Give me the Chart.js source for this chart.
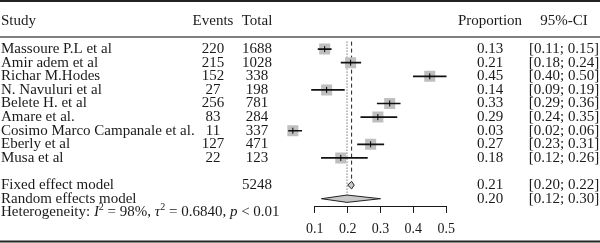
<!DOCTYPE html>
<html>
<head>
<meta charset="utf-8">
<script src="https://cdn.jsdelivr.net/npm/chart.js@4.4.0/dist/chart.umd.min.js"></script>
<style>
  html, body { margin: 0; padding: 0; background: #fff; }
  #wrap { position: relative; width: 600px; height: 243px; }
</style>
</head>
<body>
<div id="wrap"><canvas id="forest" width="600" height="243"></canvas></div>
<script>
// study data
var studies = ["Massoure P.L et al", "Amir adem et al", "Richar M.Hodes", "N. Navuluri et al",
  "Belete H. et al", "Amare et al.", "Cosimo Marco Campanale et al.", "Eberly et al", "Musa et al"];
var events = [220, 215, 152, 27, 256, 83, 11, 127, 22];
var totals = [1688, 1028, 338, 198, 781, 284, 337, 471, 123];
var est = [0.130, 0.209, 0.450, 0.136, 0.328, 0.292, 0.033, 0.270, 0.179];
var ciLow = [0.11, 0.18, 0.40, 0.09, 0.29, 0.24, 0.02, 0.23, 0.12];
var ciHigh = [0.15, 0.24, 0.50, 0.19, 0.36, 0.35, 0.06, 0.31, 0.26];

// pooled models
var modelNames = ["Fixed effect model", "Random effects model"];
var modelTotal = 5248;
var modelEst = [0.212, 0.198];
var modelLow = [0.20, 0.12];
var modelHigh = [0.22, 0.30];

var xTicks = [0.1, 0.2, 0.3, 0.4, 0.5];

var FONT = "Liberation Serif";
var INK = "#1a1a1a";

// row positions (study i sits on row i)
var modelRows = [10, 11];
var hetRow = 12;
var headRow = -2.07;
var ruleRow = -0.88;

function diamond(lo, mid, hi, row, h) {
  return [{x: lo, y: row}, {x: mid, y: row - h}, {x: hi, y: row}, {x: mid, y: row + h}, {x: lo, y: row}];
}

var textPlugin = {
  id: "forestText",
  afterDraw: function(chart) {
    var ctx = chart.ctx;
    var xs = chart.scales.x, ys = chart.scales.y;
    var W = chart.width;
    ctx.save();

    // rules
    ctx.strokeStyle = "#222";
    ctx.lineWidth = 2;
    ctx.beginPath(); ctx.moveTo(0, 1); ctx.lineTo(W, 1); ctx.stroke();
    ctx.beginPath(); ctx.moveTo(0, 241.5); ctx.lineTo(W, 241.5); ctx.stroke();
    ctx.strokeStyle = "#555";
    ctx.lineWidth = 1.5;
    var ry = Math.round(ys.getPixelForValue(ruleRow));
    ctx.beginPath(); ctx.moveTo(0, ry); ctx.lineTo(W, ry); ctx.stroke();

    // x axis line from first to last tick
    ctx.strokeStyle = INK;
    ctx.lineWidth = 1;
    var ay = chart.chartArea.bottom + 0.5;
    ctx.beginPath();
    ctx.moveTo(Math.round(xs.getPixelForValue(xTicks[0])), ay);
    ctx.lineTo(Math.round(xs.getPixelForValue(xTicks[xTicks.length - 1])) + 1, ay);
    ctx.stroke();

    ctx.fillStyle = INK;
    ctx.textBaseline = "middle";
    ctx.font = "15px '" + FONT + "'";

    function put(t, x, row, align) {
      ctx.textAlign = align;
      ctx.fillText(t, x, ys.getPixelForValue(row));
    }

    // header
    put("Study", 1, headRow, "left");
    put("Events", 213, headRow, "center");
    put("Total", 257, headRow, "center");
    put("Proportion", 490, headRow, "center");
    put("95%-CI", 564, headRow, "center");

    for (var i = 0; i < studies.length; i++) {
      put(studies[i], 1, i, "left");
      put(String(events[i]), 213, i, "center");
      put(String(totals[i]), 257, i, "center");
      put(est[i].toFixed(2), 490, i, "center");
      put("[" + ciLow[i].toFixed(2) + "; " + ciHigh[i].toFixed(2) + "]", 564, i, "center");
    }

    for (var m = 0; m < modelNames.length; m++) {
      put(modelNames[m], 1, modelRows[m], "left");
      put(modelEst[m].toFixed(2), 490, modelRows[m], "center");
      put("[" + modelLow[m].toFixed(2) + "; " + modelHigh[m].toFixed(2) + "]", 564, modelRows[m], "center");
    }
    put(String(modelTotal), 257, modelRows[0], "center");

    // heterogeneity line with italics and superscripts
    var hy = ys.getPixelForValue(hetRow);
    var parts = [
      ["Heterogeneity: ", "15px", ""], ["I", "15px", "italic "], ["2", "10px", "", -5],
      [" = 98%, ", "15px", ""], ["\u03c4", "15px", "italic "], ["2", "10px", "", -5],
      [" = 0.6840, ", "15px", ""], ["p", "15px", "italic "], [" < 0.01", "15px", ""]
    ];
    var x = 1;
    ctx.textAlign = "left";
    parts.forEach(function(p) {
      ctx.font = p[2] + p[1] + " '" + FONT + "'";
      ctx.fillText(p[0], x, hy + (p[3] || 0));
      x += ctx.measureText(p[0]).width;
    });

    ctx.restore();
  }
};

var yMin = -3.036;
var yMax = yMin + 204 / 14;

new Chart(document.getElementById("forest"), {
  type: "scatter",
  data: {
    datasets: [
      {
        // estimate tick
        type: "scatter",
        data: est.map(function(v, i) { return {x: v, y: i}; }),
        pointStyle: "line",
        rotation: 90,
        pointRadius: 3,
        borderColor: "#000",
        borderWidth: 1,
        order: 1
      },
      {
        // confidence intervals
        type: "bar",
        indexAxis: "y",
        grouped: false,
        data: ciLow.map(function(lo, i) { return {x: [lo, ciHigh[i]], y: i}; }),
        backgroundColor: "#111",
        barThickness: 1,
        order: 2
      },
      {
        // study squares
        type: "scatter",
        data: est.map(function(v, i) { return {x: v, y: i}; }),
        pointStyle: "rect",
        pointRadius: 7.8,
        backgroundColor: "#bfbfbf",
        borderWidth: 0,
        order: 3
      },
      {
        type: "line",
        data: diamond(modelLow[0], modelEst[0], modelHigh[0], modelRows[0], 0.28),
        fill: "shape",
        backgroundColor: "#c8c8c8",
        borderColor: "#222",
        borderWidth: 1,
        pointRadius: 0,
        tension: 0,
        order: 4
      },
      {
        type: "line",
        data: diamond(modelLow[1], modelEst[1], modelHigh[1], modelRows[1], 0.27),
        fill: "shape",
        backgroundColor: "#c8c8c8",
        borderColor: "#222",
        borderWidth: 1,
        pointRadius: 0,
        tension: 0,
        order: 4
      },
      {
        // fixed effect reference
        type: "line",
        data: [{x: modelEst[0], y: -0.55}, {x: modelEst[0], y: modelRows[0] - 0.3}],
        borderColor: "#222",
        borderWidth: 1,
        borderDash: [4, 3],
        pointRadius: 0,
        order: 5
      },
      {
        // random effects reference
        type: "line",
        data: [{x: modelEst[1], y: -0.55}, {x: modelEst[1], y: modelRows[1] - 0.27}],
        borderColor: "#333",
        borderWidth: 1,
        borderDash: [1, 2],
        pointRadius: 0,
        order: 5
      }
    ]
  },
  options: {
    responsive: false,
    animation: false,
    devicePixelRatio: 1,
    events: [],
    layout: { padding: { left: 282, right: 121, top: 2, bottom: 0 } },
    plugins: { legend: { display: false }, tooltip: { enabled: false } },
    scales: {
      x: {
        type: "linear",
        min: 0,
        max: 0.6,
        offset: false,
        afterBuildTicks: function(s) { s.ticks = xTicks.map(function(v) { return {value: v}; }); },
        afterFit: function(s) { s.height = 37; },
        border: { display: false },
        grid: { drawOnChartArea: false, drawTicks: true, tickLength: 7, color: INK, lineWidth: 1, offset: false },
        ticks: {
          font: { family: FONT, size: 14 },
          color: INK,
          padding: 8,
          maxRotation: 0,
          autoSkip: false,
          callback: function(v) { return v.toFixed(1); }
        }
      },
      y: {
        type: "linear",
        reverse: true,
        offset: false,
        min: yMin,
        max: yMax,
        display: false
      }
    }
  },
  plugins: [textPlugin]
});
</script>
</body>
</html>
